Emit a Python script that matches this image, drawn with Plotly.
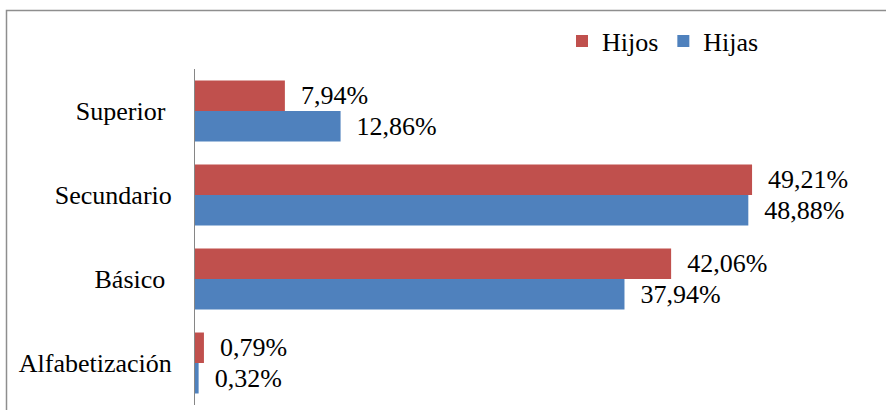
import plotly.graph_objects as go

categories = ["Alfabetización", "Básico", "Secundario", "Superior"]
tick_labels = ["Alfabetización", "Básico\u00a0", "Secundario", "Superior\u00a0"]
hijos = [0.79, 42.06, 49.21, 7.94]
hijas = [0.32, 37.94, 48.88, 12.86]

RED = "#C0504D"
BLUE = "#4F81BD"
FONT = "Liberation Serif"
FS = 26

W, H = 886, 410
L, R, T, B = 195, 12, 69, 5
pw, ph = W - L - R, H - T - B

def px_x(p):
    return (p - L) / pw

def px_y(p):
    return (H - B - p) / ph

fig = go.Figure()
for name, vals, col in [("Hijas", hijas, BLUE), ("Hijos", hijos, RED)]:
    fig.add_trace(go.Bar(
        y=categories, x=vals, name=name, orientation="h",
        marker=dict(color=col, line=dict(width=0)),
        texttemplate="\u00a0\u00a0%{x:.2f}%", textposition="outside",
        textfont=dict(family=FONT, size=FS, color="black"),
        constraintext="none", cliponaxis=False,
    ))

fig.update_layout(
    width=W, height=H,
    margin=dict(l=L, r=R, t=T, b=B, autoexpand=False),
    paper_bgcolor="white", plot_bgcolor="white",
    barmode="group", bargap=0.274, bargroupgap=0,
    separators=",.",
    font=dict(family=FONT, size=FS, color="black"),
    showlegend=True,
    legend=dict(orientation="h", traceorder="reversed",
                x=px_x(562), xanchor="left", y=px_y(41), yanchor="middle",
                font=dict(family=FONT, size=FS, color="black"),
                bgcolor="rgba(0,0,0,0)", itemclick=False),
    xaxis=dict(range=[0, pw / 11.32], showgrid=False, zeroline=False,
               showticklabels=False, showline=False, fixedrange=True),
    yaxis=dict(categoryorder="array", categoryarray=categories,
               tickmode="array", tickvals=categories, ticktext=tick_labels,
               showgrid=False, zeroline=False, showline=True,
               linecolor="#868686", linewidth=1, ticks="",
               ticklabelstandoff=17, automargin=False,
               tickfont=dict(family=FONT, size=FS, color="black")),
    shapes=[dict(type="rect", xref="paper", yref="paper",
                 x0=px_x(6.5), x1=px_x(W + 20), y0=px_y(H + 20), y1=px_y(10.5),
                 line=dict(color="#8e8e8e", width=1.5), layer="below")],
)

fig.write_html("out.html", post_script="document.body.style.margin='0';",
               config={"displayModeBar": False})
